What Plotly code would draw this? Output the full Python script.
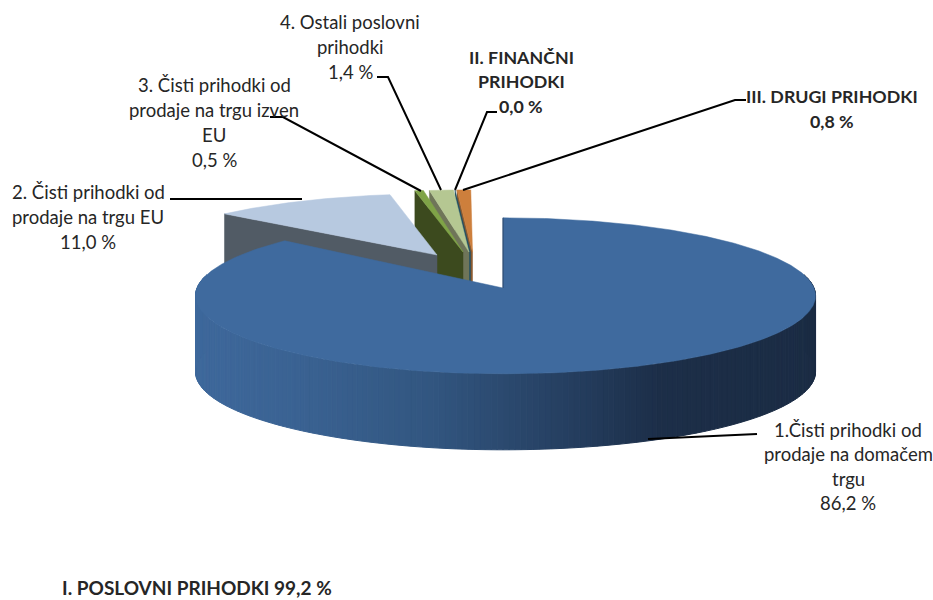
import math
import plotly.graph_objects as go

# ---- data ----
slice_names = ["1.Čisti prihodki od prodaje na domačem trgu",
               "2. Čisti prihodki od prodaje na trgu EU",
               "3. Čisti prihodki od prodaje na trgu izven EU",
               "4. Ostali poslovni prihodki",
               "II. FINANČNI PRIHODKI",
               "III. DRUGI PRIHODKI"]
slice_values = [86.2, 11.0, 0.5, 1.4, 0.0, 0.8]
summary_label = "I. POSLOVNI PRIHODKI"
summary_value = 99.2

# ---- styling ----
W, H = 933, 600
K = 0.1
FONT = "Lato"
TXT = "#262626"
top_colors = ["#3f6a9e", "#b7c9e0", "#7fa347", "#b5c792", "#1f4e64", "#cd7f3c"]
wall_colors = ["#20344f", "#515b65", "#3c4a1e", "#6f7559", "#1f4e64", "#8a5a30"]
# apex x, apex y, radius x (left side), radius x (right side), radius y, wall height
geom = [(503, 288, 306, 311, 78, 76),
        (437, 255, 298, 298, 68, 70),
        (463, 252, 305, 305, 69, 70),
        (469, 252, 305, 305, 69, 70),
        (470.5, 252, 305, 305, 69, 70),
        (472.5, 252, 305, 305, 69, 70)]

def fmt(v):
    return f"{v:.1f}".replace(".", ",") + " %"

def angles():
    out, a = [], 0.0
    for v in slice_values:
        b = a + v / 100 * 360
        out.append((a, b))
        a = b
    return out

def pt(i, deg):
    cx, cy, rl, rr, ry, _ = geom[i]
    t = math.radians(deg)
    s = 1 - K * math.cos(t)
    rx = rr if math.sin(t) >= 0 else rl
    return cx + rx * math.sin(t) * s, cy - ry * math.cos(t) * s

def poly(xs, ys, color, line=0.0):
    return go.Scatter(x=xs + xs[:1], y=ys + ys[:1], mode="lines", fill="toself",
                      fillcolor=color, line=dict(color=color, width=line),
                      hoverinfo="skip", showlegend=False)

ang = angles()
fig = go.Figure()

def top_face(i):
    a, b = ang[i]
    n = max(2, int((b - a) * 2))
    pts = [pt(i, a + (b - a) * j / n) for j in range(n + 1)]
    xs = [p[0] for p in pts] + [geom[i][0]]
    ys = [p[1] for p in pts] + [geom[i][1]]
    return poly(xs, ys, top_colors[i], 0.5)

def start_wall(i):
    a, _ = ang[i]
    cx, cy = geom[i][:2]
    h = geom[i][5]
    p = pt(i, a)
    return poly([p[0], cx, cx, p[0]], [p[1], cy, cy + h, p[1] + h], wall_colors[i], 0.5)

# painter's order, from the right hand small slices to the big front slice
fig.add_trace(start_wall(5))
fig.add_trace(start_wall(4))
fig.add_trace(top_face(5))
fig.add_trace(start_wall(3))
fig.add_trace(top_face(3))
fig.add_trace(start_wall(2))
fig.add_trace(top_face(2))
fig.add_trace(start_wall(1))
fig.add_trace(top_face(1))

# main slice: curved wall with horizontal shading, then its top
stops = [(197, (62, 104, 155)), (300, (58, 98, 146)), (430, (50, 86, 128)),
         (560, (38, 64, 98)), (660, (28, 46, 72)), (815, (27, 44, 68))]

def shade(x):
    for (x0, c0), (x1, c1) in zip(stops, stops[1:]):
        if x <= x1:
            f = max(0.0, (x - x0) / (x1 - x0))
            return "rgb(%d,%d,%d)" % tuple(round(p + (q - p) * f) for p, q in zip(c0, c1))
    return "rgb(%d,%d,%d)" % stops[-1][1]

h0 = geom[0][5]
deg = 80.0
while deg < 280.0:
    p, q = pt(0, deg), pt(0, deg + 1.0)
    col = shade((p[0] + q[0]) / 2)
    fig.add_trace(poly([p[0], q[0], q[0], p[0]], [p[1], q[1], q[1] + h0, p[1] + h0], col, 1))
    deg += 1.0
fig.add_trace(top_face(0))
start_pt = pt(0, 0.0)
fig.add_trace(go.Scatter(x=[start_pt[0], geom[0][0]], y=[start_pt[1], geom[0][1]], mode="lines",
                         line=dict(color="#2a4668", width=1), hoverinfo="skip", showlegend=False))

# leader lines
leaders = [[(757, 434), (648, 439)],
           [(170, 199), (302, 199)],
           [(270, 117), (283, 117), (421, 191)],
           [(377, 77), (388, 77), (441, 190)],
           [(497, 112), (487, 112), (455, 190)],
           [(746, 100), (735, 100), (463, 190)]]
for seg in leaders:
    fig.add_trace(go.Scatter(x=[p[0] for p in seg], y=[p[1] for p in seg], mode="lines",
                             line=dict(color="#000000", width=2), hoverinfo="skip", showlegend=False))

# labels, one annotation per line for exact line spacing
label_lines = [
    (848, [430, 454, 479, 503], ["1.Čisti prihodki od", "prodaje na domačem", "trgu", fmt(slice_values[0])], False),
    (88, [192, 217, 242], ["2. Čisti prihodki od", "prodaje na trgu EU", fmt(slice_values[1])], False),
    (214, [85, 110, 135, 160], ["3. Čisti prihodki od", "prodaje na trgu izven", "EU", fmt(slice_values[2])], False),
    (350, [22, 47, 72], ["4. Ostali poslovni", "prihodki", fmt(slice_values[3])], False),
    (521, [57, 81, 106], ["II. FINANČNI", "PRIHODKI", fmt(slice_values[4])], True),
    (832, [96, 121], ["III. DRUGI PRIHODKI", fmt(slice_values[5])], True),
]
for x, ys, lines, bold in label_lines:
    for y, t in zip(ys, lines):
        fig.add_annotation(x=x, y=y, xref="x", yref="y", showarrow=False, xanchor="center", yanchor="middle",
                           text=f"<b>{t}</b>" if bold else t,
                           font=dict(family=FONT, size=17.8 if bold else 18.5, color=TXT))
fig.add_annotation(x=60, y=587, xref="x", yref="y", showarrow=False, xanchor="left", yanchor="middle",
                   text=f"<b>{summary_label} {fmt(summary_value)}</b>",
                   font=dict(family=FONT, size=19, color=TXT))

fig.update_layout(width=W, height=H, margin=dict(l=0, r=0, t=0, b=0), autosize=False,
                  paper_bgcolor="white", plot_bgcolor="white", showlegend=False,
                  xaxis=dict(range=[0, W], visible=False, fixedrange=True),
                  yaxis=dict(range=[H, 0], visible=False, fixedrange=True))
fig.write_html("out.html", config={"displayModeBar": False},
               post_script="document.body.style.margin='0';document.documentElement.style.overflow='hidden';")
